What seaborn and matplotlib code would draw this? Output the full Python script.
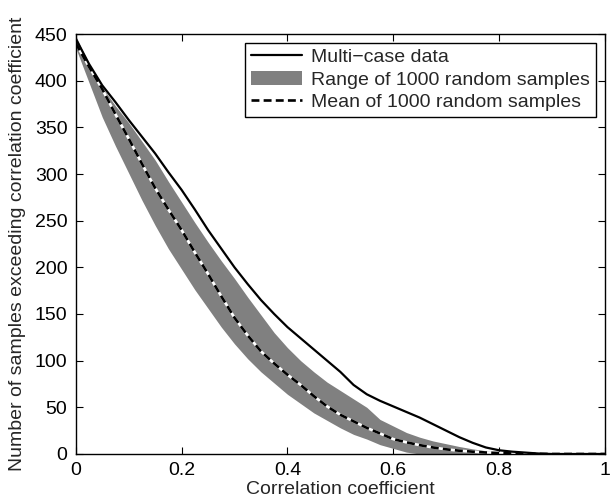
import numpy as np
import pandas as pd
import matplotlib.pyplot as plt
import seaborn as sns

# values (step 0.025)
corr = [0.0, 0.025, 0.05, 0.075, 0.10, 0.125, 0.15, 0.175, 0.20, 0.225, 0.25,
        0.275, 0.30, 0.325, 0.35, 0.375, 0.40, 0.425, 0.45, 0.475, 0.50,
        0.525, 0.55, 0.575, 0.60, 0.625, 0.65, 0.675, 0.70, 0.725, 0.75,
        0.775, 0.80, 0.825, 0.85, 0.875, 0.90, 0.95, 1.0]
multi_case = [445, 418, 395, 377, 358, 340, 322, 302, 283, 262, 240,
              220, 200, 182, 165, 150, 136, 124, 112, 100, 88,
              74, 64, 57, 51, 45, 39, 32, 25, 18, 12,
              7, 4, 2.5, 1.5, 0.5, 0, 0, 0]
range_low = [435, 398, 361, 330, 301, 272, 245, 220, 198, 176, 156,
             136, 118, 102, 88, 76, 64, 54, 44, 36, 28,
             21, 16, 10, 6, 2, 0, 0, 0, 0, 0,
             0, 0, 0, 0, 0, 0, 0, 0]
range_high = [448, 418, 393, 373, 355, 335, 315, 292, 270, 248, 227,
              207, 188, 168, 149, 130, 114, 100, 88, 77, 68,
              59, 50, 37, 30, 23, 18, 14, 11, 8, 5.5,
              3.5, 2, 1, 0.5, 0.2, 0, 0, 0]
rand_mean = [440, 415, 391, 364, 338, 311, 285, 262, 240, 216, 193,
             169, 146, 127, 110, 97, 85, 74, 62, 51, 42,
             35, 28, 22, 16, 12.5, 9.5, 7, 5, 3.5, 2.5,
             1.6, 1, 0.6, 0.3, 0.1, 0, 0, 0]

labels = ["Multi\u2212case data", "Range of 1000 random samples", "Mean of 1000 random samples"]

sns.set_style("ticks")
plt.rcParams['font.family'] = ['Liberation Sans', 'DejaVu Sans']

df = pd.DataFrame({"r": corr, "multi": multi_case, "low": range_low,
                   "high": range_high, "mean": rand_mean})

fig = plt.figure(figsize=(6.11, 5), dpi=100)
ax = fig.add_axes([0.124, 0.092, 0.866, 0.84])

band = ax.fill_between(df["r"], df["low"], df["high"], color="#808080", lw=0, label=labels[1])
sns.lineplot(data=df, x="r", y="mean", color="white", lw=1.9, ax=ax)
sns.lineplot(data=df, x="r", y="mean", color="black", lw=1.9, ax=ax, label=labels[2])
mean_line = ax.lines[-1]
mean_line.set_dashes([3.0, 1.6])
sns.lineplot(data=df, x="r", y="multi", color="black", lw=1.6, ax=ax, label=labels[0])
multi_line = ax.lines[-1]

ax.set_xlim(0, 1)
ax.set_ylim(0, 450)
ax.set_xticks([0, 0.2, 0.4, 0.6, 0.8, 1])
ax.set_xticklabels(["0", "0.2", "0.4", "0.6", "0.8", "1"])
ax.set_yticks(np.arange(0, 451, 50))
ax.tick_params(direction="in", length=5, width=0.8, labelsize=14, pad=6,
               top=True, right=True, colors="black")
for sp in ax.spines.values():
    sp.set_visible(True)
    sp.set_linewidth(1.0)
    sp.set_color("black")

ax.set_xlabel("Correlation coefficient", fontsize=14, labelpad=1)
ax.set_ylabel("Number of samples exceeding correlation coefficient", fontsize=14, labelpad=6)

leg = ax.legend([multi_line, band, mean_line], labels, loc="upper right", fontsize=14,
                frameon=True, fancybox=False, framealpha=1, edgecolor="black",
                borderaxespad=0.45, handlelength=2.6, labelspacing=0.25,
                handletextpad=0.5, borderpad=0.3)
leg.get_frame().set_linewidth(1.0)

fig.savefig("out.png", dpi=100)
